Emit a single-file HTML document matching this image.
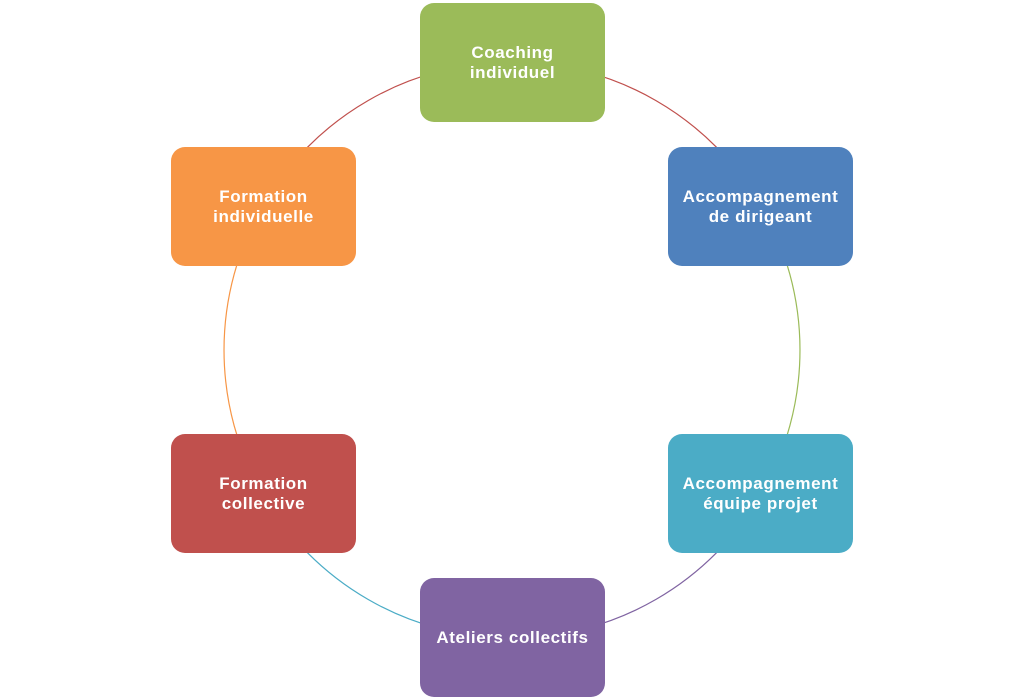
<!DOCTYPE html>
<html><head><meta charset="utf-8"><style>
body{margin:0;width:1024px;height:700px;background:#fff;position:relative;overflow:hidden;font-family:"Liberation Sans",sans-serif}
.b{position:absolute;width:185px;height:119px;border-radius:14px;color:#fff;font-weight:bold;font-size:17px;letter-spacing:0.6px;line-height:20px;display:flex;align-items:center;justify-content:center;text-align:center}
</style></head><body>
<svg width="1024" height="700" style="position:absolute;left:0;top:0" fill="none" stroke-width="1.2">
<path d="M512,62 A288,288 0 0 1 761.4,206" stroke="#c0504d"/>
<path d="M761.4,206 A288,288 0 0 1 761.4,494" stroke="#9bbb59"/>
<path d="M761.4,494 A288,288 0 0 1 512,638" stroke="#8064a2"/>
<path d="M512,638 A288,288 0 0 1 262.6,494" stroke="#4bacc6"/>
<path d="M262.6,494 A288,288 0 0 1 262.6,206" stroke="#f79646"/>
<path d="M262.6,206 A288,288 0 0 1 512,62" stroke="#c0504d"/>
</svg>
<div class="b" style="left:420px;top:3px;background:#9bbb59">Coaching<br>individuel</div>
<div class="b" style="left:668px;top:147px;background:#4f81bd">Accompagnement<br>de dirigeant</div>
<div class="b" style="left:668px;top:434px;background:#4bacc6">Accompagnement<br>équipe projet</div>
<div class="b" style="left:420px;top:578px;background:#8064a2">Ateliers collectifs</div>
<div class="b" style="left:171px;top:434px;background:#c0504d">Formation<br>collective</div>
<div class="b" style="left:171px;top:147px;background:#f79646">Formation<br>individuelle</div>
</body></html>
